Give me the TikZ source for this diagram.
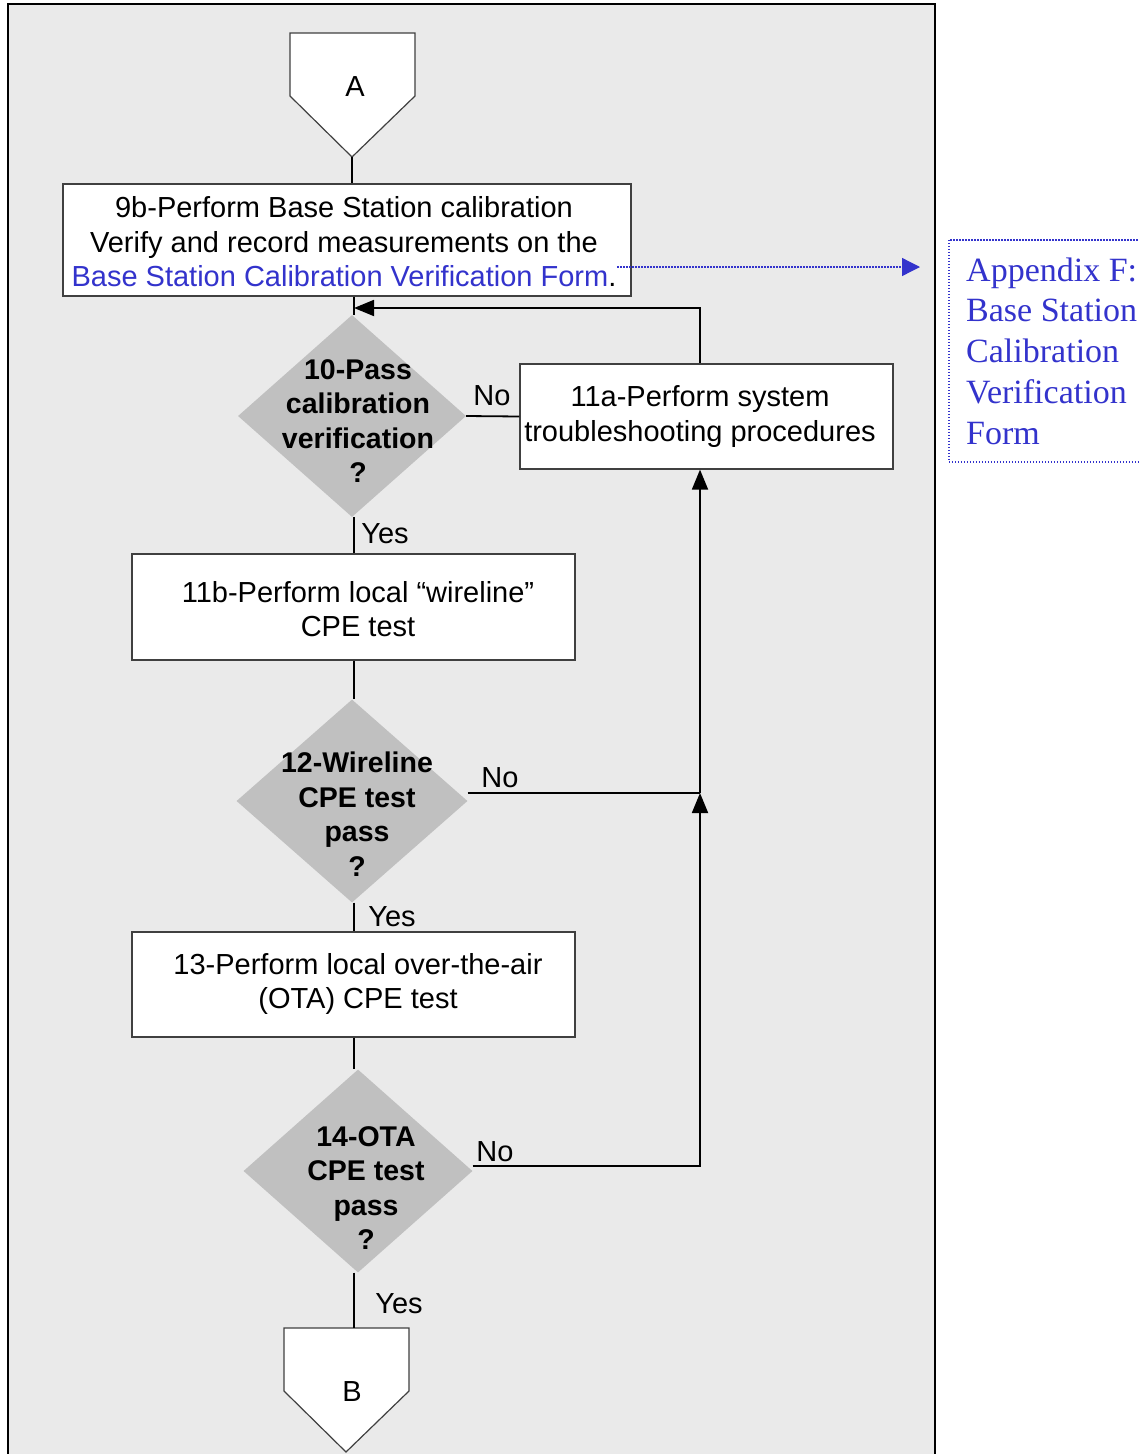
\documentclass[tikz,border=0pt]{standalone}
\usepackage{fontspec}
\setmainfont{Liberation Sans}
\newfontfamily\appserif{Liberation Serif}
\usetikzlibrary{shapes.geometric,arrows.meta}
\definecolor{panel}{RGB}{234,234,234}
\definecolor{decision}{RGB}{192,192,192}
\definecolor{linkblue}{RGB}{51,51,204}
\definecolor{boxline}{RGB}{64,64,64}

\begin{document}
\begin{tikzpicture}[x=1pt,y=-1pt,
  every node/.style={font=\fontsize{29}{34.5}\selectfont},
  stepbox/.style={draw=boxline, line width=1.2pt, fill=white, inner sep=0pt},
  steptext/.style={align=center, inner sep=0pt},
  decide/.style={diamond, fill=decision, inner sep=0pt},
  qtext/.style={align=center, inner sep=0pt, font=\fontsize{28.5}{34.5}\selectfont\bfseries},
  offpage/.style={draw=boxline, line width=1.2pt, fill=white},
  flow/.style={line width=1.8pt},
  arr/.style={-{Triangle[length=20pt,width=16pt]}},
  linkline/.style={draw=linkblue, line width=1.7pt, dash pattern=on 1.5pt off 1.5pt},
  lbl/.style={inner sep=0pt},
]
\useasboundingbox (0,0) rectangle (1139,1454);
\clip (0,0) rectangle (1139,1454);

% panel
\draw[line width=2pt, fill=panel] (8,4) rectangle (935,1470);

% off-page connector A
\draw[offpage] (290,33) -- (415,33) -- (415,96) -- (352,157) -- (290,96) -- cycle;
\node[lbl] (ca) at (355,87) {A};
\coordinate (atip) at (352,157);

% process boxes
\node[stepbox, minimum width=568pt, minimum height=112pt] (b9) at (347,240) {};
\node[steptext] (t9) at (344,242)
  {9b-Perform Base Station calibration\\Verify and record measurements on the\\{\color{linkblue}Base Station Calibration Verification Form}.};
\node[stepbox, minimum width=373pt, minimum height=105pt] (b11a) at (706.5,416.5) {};
\node[steptext] (t11a) at (700,416.5) {11a-Perform system\\troubleshooting procedures};
\node[stepbox, minimum width=443pt, minimum height=106pt] (b11b) at (353.5,607) {};
\node[steptext] (t11b) at (358,609) {11b-Perform local \textquotedblleft wireline\textquotedblright\\CPE test};
\node[stepbox, minimum width=443pt, minimum height=105pt] (b13) at (353.5,984.5) {};
\node[steptext] (t13) at (358,984) {13-Perform local over-the-air\\(OTA) CPE test};

% decisions
\node[decide, minimum width=228pt, minimum height=202pt] (d10) at (352,416) {};
\node[qtext] (q10) at (358,421) {10-Pass\\calibration\\verification\\?};
\node[decide, minimum width=231pt, minimum height=203pt] (d12) at (352,801) {};
\node[qtext] (q12) at (357,814) {12-Wireline\\CPE test\\pass\\?};
\node[decide, minimum width=229pt, minimum height=203pt] (d14) at (358,1171) {};
\node[qtext] (q14) at (366,1188) {14-OTA\\CPE test\\pass\\?};

% off-page connector B
\draw[offpage] (284,1328) -- (409,1328) -- (409,1391) -- (346,1452) -- (284,1391) -- cycle;
\node[lbl] (cb) at (352,1392) {B};
\coordinate (btop) at (354,1328);

% appendix reference
\node[linkline, anchor=north west, minimum width=210pt, minimum height=222pt, inner sep=0pt] (app) at (948,239) {};
\node[lbl, anchor=west, align=left, text=linkblue, font=\appserif\fontsize{34}{40.75}\selectfont] (apptext) at (966,351)
  {Appendix F:\\Base Station\\Calibration\\Verification\\Form};
\coordinate (linkstart) at (617,267);
\coordinate (linkend) at (920,267);
\draw[linkline, line width=1.3pt, -{Triangle[length=18pt,width=18pt,fill=linkblue]}] (linkstart) -- (linkend);

% main spine
\coordinate (loopx) at (700,308);
\coordinate (ret) at (354,308);
\coordinate (junc) at (700,793);
\draw[flow] (atip) -- (atip |- b9.north);
\draw[flow] (ret |- b9.south) -- (ret |- d10.north);
\draw[flow] (ret |- d10.south) -- (ret |- b11b.north);
\draw[flow] (ret |- b11b.south) -- (ret |- d12.north);
\draw[flow] (ret |- d12.south) -- (ret |- b13.north);
\draw[flow] (ret |- b13.south) -- (ret |- d14.north);
\draw[flow] (btop |- d14.south) -- (btop);

% failure branches and return loop
\draw[flow] (d10.east) -- (b11a.west);
\draw[flow, arr] (loopx |- b11a.north) -- (loopx) -- (ret);
\draw[flow] (d12.east |- junc) -- (junc);
\draw[flow, arr] (junc) -- (loopx |- b11a.south);
\draw[flow, arr] (d14.east |- 0,1166) -| (junc);

% branch labels
\node[lbl] (no10) at (492,396) {No};
\node[lbl] (yes10) at (385,534) {Yes};
\node[lbl] (no12) at (500,778) {No};
\node[lbl] (yes12) at (392,917) {Yes};
\node[lbl] (no14) at (495,1152) {No};
\node[lbl] (yes14) at (399,1304) {Yes};
\end{tikzpicture}
\end{document}
